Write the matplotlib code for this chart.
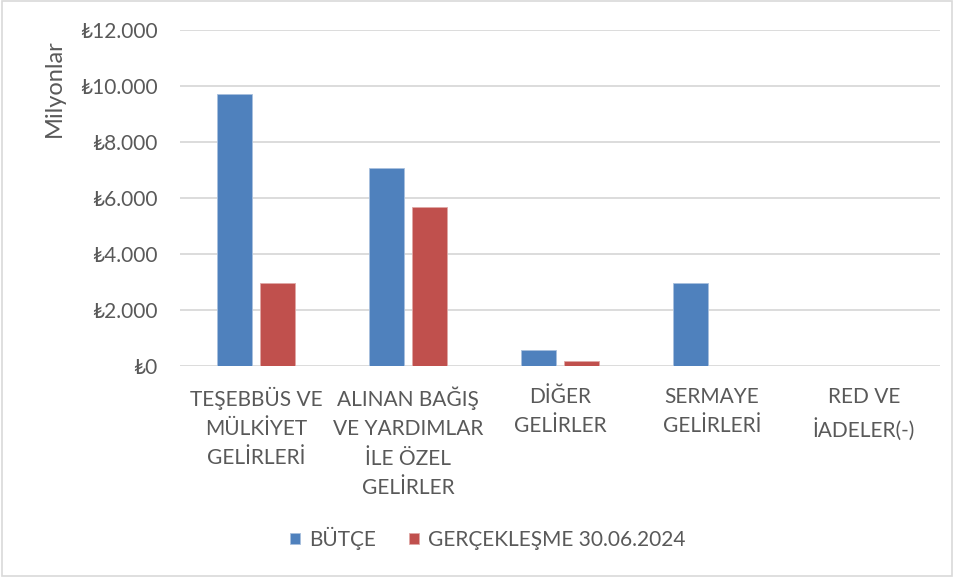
import matplotlib
matplotlib.use("Agg")
import matplotlib.pyplot as plt
import numpy as np
from matplotlib.patches import Rectangle
from matplotlib.ticker import FuncFormatter

# data (milyon TL)
categories = [
    "TEŞEBBÜS VE\nMÜLKİYET\nGELİRLERİ",
    "ALINAN BAĞIŞ\nVE YARDIMLAR\nİLE ÖZEL\nGELİRLER",
    "DİĞER\nGELİRLER",
    "SERMAYE\nGELİRLERİ",
    "RED VE\nİADELER(-)",
]
butce = [9700, 7070, 560, 2960, 0]
gerceklesme = [2950, 5680, 190, 0, 0]
series_names = ["BÜTÇE", "GERÇEKLEŞME 30.06.2024"]
y_ticks = [0, 2000, 4000, 6000, 8000, 10000, 12000]

BLUE = "#4F81BD"
RED = "#C0504D"
TEXT = "#595959"
GRID = "#D9D9D9"

plt.rcParams["font.family"] = ["Lato", "DejaVu Sans"]

fig = plt.figure(figsize=(9.54, 5.77), dpi=100)
ax = fig.add_axes([180 / 954, 1 - 366 / 577, 760 / 954, 336 / 577])

x = np.arange(len(categories))
width = 0.224
offset = 0.1415
ax.bar(x - offset, butce, width, color=BLUE, edgecolor="#a8c0de", linewidth=0.6,
       label=series_names[0], zorder=3)
ax.bar(x + offset, gerceklesme, width, color=RED, edgecolor="#e0a8a6", linewidth=0.6,
       label=series_names[1], zorder=3)

ax.set_xlim(-0.5, len(categories) - 0.5)
ax.set_ylim(0, 12000)
ax.set_yticks(y_ticks)
ax.yaxis.set_major_formatter(
    FuncFormatter(lambda v, _: "₺" + f"{v:,.0f}".replace(",", ".")))
ax.set_xticks(x)
ax.set_xticklabels(categories, linespacing=1.57)

ax.grid(axis="y", color=GRID, linewidth=1.3, zorder=0)
for s in ax.spines.values():
    s.set_visible(False)
ax.tick_params(axis="both", length=0, colors=TEXT, labelsize=15)
ax.tick_params(axis="y", pad=16)
ax.tick_params(axis="x", pad=15)

fig.text(54 / 954, 1 - 88 / 577, "Milyonlar", rotation=90, ha="center",
         va="center", fontsize=17, color=TEXT)

leg = fig.legend(loc="center", bbox_to_anchor=(488 / 954, 1 - 538 / 577),
                 ncol=2, frameon=False, fontsize=15, handlelength=0.45,
                 handleheight=0.45, handletextpad=0.45, columnspacing=1.6)
for t in leg.get_texts():
    t.set_color(TEXT)

fig.patches.append(Rectangle((0.002, 0.002), 0.996, 0.996, transform=fig.transFigure,
                             fill=False, edgecolor=GRID, linewidth=1.2))

fig.savefig("out.png", dpi=100)
